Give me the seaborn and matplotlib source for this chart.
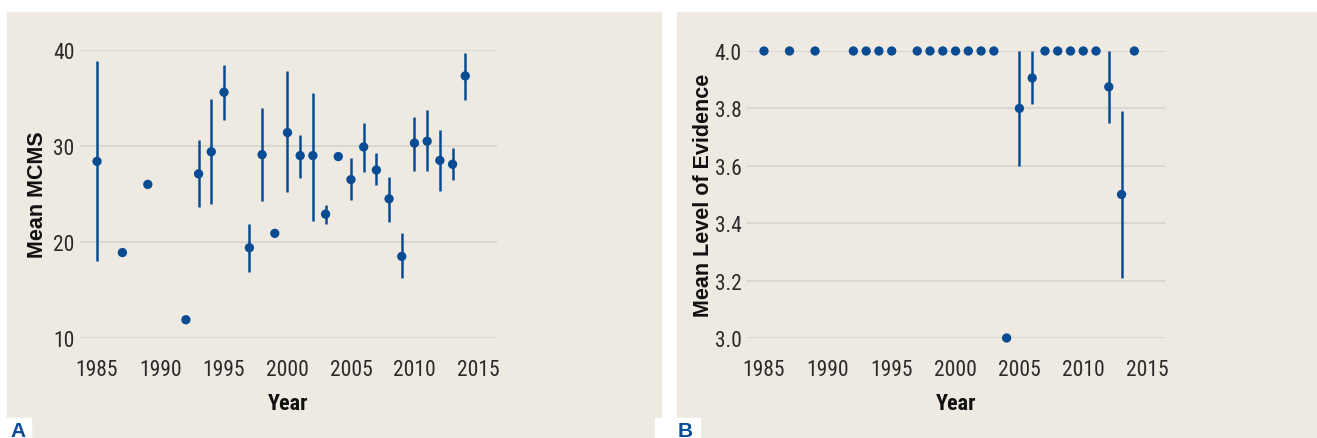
import numpy as np
import pandas as pd
import matplotlib.pyplot as plt
import seaborn as sns
from matplotlib import font_manager
from matplotlib.patches import Rectangle

### DATA ###

# Panel A - mean MCMS per year (lo/hi = error bar ends, nan = no bar)
years_a = [1985, 1987, 1989, 1992, 1993, 1994, 1995, 1997, 1998, 1999,
           2000, 2001, 2002, 2003, 2004, 2005, 2006, 2007, 2008, 2009,
           2010, 2011, 2012, 2013, 2014]
mcms_mean = [28.4, 18.9, 26.0, 11.9, 27.1, 29.4, 35.6, 19.4, 29.1, 20.9,
             31.4, 29.0, 29.0, 22.9, 28.9, 26.5, 29.9, 27.5, 24.5, 18.5,
             30.3, 30.5, 28.5, 28.1, 37.3]
mcms_lo = [18.0, np.nan, np.nan, np.nan, 23.6, 24.0, 32.7, 16.9, 24.3, np.nan,
           25.2, 26.7, 22.2, 21.9, np.nan, 24.4, 27.3, 25.9, 22.1, 16.2,
           27.4, 27.4, 25.3, 26.5, 34.8]
mcms_hi = [38.9, np.nan, np.nan, np.nan, 30.6, 34.9, 38.4, 21.9, 34.0, np.nan,
           37.8, 31.1, 35.5, 23.9, np.nan, 28.7, 32.4, 29.3, 26.8, 20.9,
           33.0, 33.7, 31.7, 29.8, 39.7]

# Panel B - mean level of evidence per year
years_b = years_a
loe_mean = [4.0, 4.0, 4.0, 4.0, 4.0, 4.0, 4.0, 4.0, 4.0, 4.0,
            4.0, 4.0, 4.0, 4.0, 3.0, 3.8, 3.906, 4.0, 4.0, 4.0,
            4.0, 4.0, 3.875, 3.5, 4.0]
loe_lo = [np.nan] * 15 + [3.6, 3.817] + [np.nan] * 5 + [3.75, 3.21, np.nan]
loe_hi = [np.nan] * 15 + [4.0, 4.0] + [np.nan] * 5 + [4.0, 3.79, np.nan]

xticks = [1985, 1990, 1995, 2000, 2005, 2010, 2015]
yticks_a = [10, 20, 30, 40]
yticks_b = [3.0, 3.2, 3.4, 3.6, 3.8, 4.0]

df_a = pd.DataFrame({'year': years_a, 'mean': mcms_mean, 'lo': mcms_lo, 'hi': mcms_hi})
df_b = pd.DataFrame({'year': years_b, 'mean': loe_mean, 'lo': loe_lo, 'hi': loe_hi})

### STYLE ###

blue = '#0A4C94'
beige = '#EEEAE1'
grid_col = '#D6D6D3'

sns.set_style('white')

# pick a condensed family for the tick labels if one is installed
installed = {f.name for f in font_manager.fontManager.ttflist}
narrow = 'Liberation Sans'
for cand in ['Roboto Condensed', 'Archivo Narrow', 'PT Sans Narrow', 'Fira Sans Condensed',
             'IBM Plex Sans Condensed', 'Encode Sans Condensed', 'Barlow Condensed',
             'Liberation Sans Narrow', 'Pragati Narrow']:
    if cand in installed:
        narrow = cand
        break

plt.rcParams['font.family'] = [narrow, 'Liberation Sans', 'DejaVu Sans']

fig = plt.figure(figsize=(13.17, 4.39), dpi=100)
W, H = 1317, 439

# panel backgrounds and letter boxes (pixel coords from top-left)
def px_rect(x0, y0, x1, y1, color):
    fig.patches.append(Rectangle((x0 / W, 1 - y1 / H), (x1 - x0) / W, (y1 - y0) / H,
                                 transform=fig.transFigure, color=color, zorder=-2))

px_rect(7, 13, 661, 439, beige)
px_rect(677, 13, 1317, 439, beige)
px_rect(0, 419, 31, 439, 'white')
px_rect(655, 419, 700, 439, 'white')

ax_a = fig.add_axes([80 / W, 1 - 339 / H, 417 / W, 288 / H], zorder=2)
ax_b = fig.add_axes([747 / W, 1 - 339 / H, 418 / W, 287 / H], zorder=2)


def draw_panel(ax, df, yticks, ylim, xlim, ylabel, ylabels):
    ax.set_facecolor('none')
    err = df.dropna(subset=['lo', 'hi'])
    ax.vlines(err['year'], err['lo'], err['hi'], color=blue, lw=1.8,
              zorder=3, clip_on=False)
    sns.scatterplot(data=df, x='year', y='mean', ax=ax, color=blue, s=45,
                    edgecolor='none', zorder=4, clip_on=False)
    ax.set_xlim(*xlim)
    ax.set_ylim(*ylim)
    ax.set_xticks(xticks)
    ax.set_yticks(yticks)
    ax.set_yticklabels(ylabels)
    for s in ax.spines.values():
        s.set_visible(False)
    ax.grid(axis='y', color=grid_col, lw=1.3)
    ax.grid(axis='x', visible=False)
    ax.set_axisbelow(True)
    ax.tick_params(axis='x', length=10, width=1.3, color=grid_col, pad=5,
                   labelsize=15.5, labelcolor='#2a2a2a')
    ax.tick_params(axis='y', length=0, pad=4, labelsize=15.5, labelcolor='#2a2a2a')
    ax.set_xlabel('Year', fontsize=16, fontweight='bold', color='#111111')
    ax.set_ylabel(ylabel, fontsize=15.5, fontweight='bold', color='#111111',
                  family=['Liberation Sans', 'DejaVu Sans'])
    ax.xaxis.label.set_va('center')
    ax.yaxis.label.set_va('center')


draw_panel(ax_a, df_a, yticks_a, (10, 40), (1983.66, 2016.5), 'Mean MCMS',
           [str(v) for v in yticks_a])
draw_panel(ax_b, df_b, yticks_b, (3.0, 4.0), (1983.67, 2016.4),
           'Mean Level of Evidence', [f'{v:.1f}' for v in yticks_b])

ax_a.xaxis.set_label_coords(0.5, -0.226)
ax_a.yaxis.set_label_coords(-0.103, 0.5)
ax_b.xaxis.set_label_coords(0.5, -0.226)
ax_b.yaxis.set_label_coords(-0.105, 0.5)

# panel letters
fig.text(10 / W, 1 - 437 / H, 'A', fontsize=15, fontweight='bold', color=blue,
         va='baseline', ha='left', family=['Liberation Sans', 'DejaVu Sans'])
fig.text(678 / W, 1 - 437 / H, 'B', fontsize=15, fontweight='bold', color=blue,
         va='baseline', ha='left', family=['Liberation Sans', 'DejaVu Sans'])

fig.savefig('out.png', dpi=100)
